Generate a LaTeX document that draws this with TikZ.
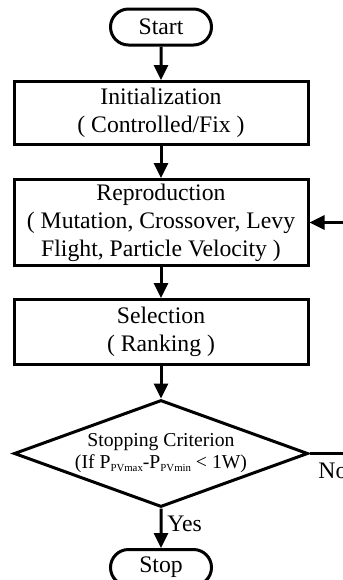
\documentclass[tikz,border=0pt]{standalone}
\usepackage{fontspec}
\setmainfont{Liberation Serif}
\usetikzlibrary{arrows.meta,shapes.geometric,shapes.misc}
\newcommand{\mainsize}{\fontsize{11.85pt}{14pt}\selectfont}
\newcommand{\critsize}{\fontsize{9.85pt}{11pt}\selectfont}
\newcommand{\subpv}[1]{\raisebox{-1.3pt}{\fontsize{5.4pt}{6pt}\selectfont #1}}
\tikzset{
  procbox/.style={draw, line width=1.5pt, minimum width=147pt, inner sep=0pt, align=center, font=\mainsize},
  termbox/.style={draw, line width=1.5pt, rounded rectangle, minimum width=50.5pt, minimum height=18pt, inner sep=0pt, font=\mainsize},
  decision/.style={draw, line width=1.5pt, diamond, aspect=2.75, minimum width=147pt, minimum height=53.5pt, inner sep=0pt},
  flow/.style={line width=1.5pt, -{Triangle[length=7.5pt,width=7pt]}},
  lbl/.style={font=\mainsize, inner sep=0pt},
}
\begin{document}
\begin{tikzpicture}[x=0.5pt, y=-0.5pt]
      \useasboundingbox (0,0) rectangle (343,580);
      \clip (0,0) rectangle (343,580);
      % blocks
      \node[termbox] (start) at (161,27) {Start};
      \node[procbox, minimum height=31.5pt] (init) at (161,113) {Initialization\\( Controlled/Fix )};
      \node[procbox, minimum height=43pt] (repro) at (161,222.5) {Reproduction\\( Mutation, Crossover, Levy\\Flight, Particle Velocity )};
      \node[procbox, minimum height=32.5pt] (sel) at (161,332) {Selection\\( Ranking )};
      \node[decision] (crit) at (161,453.5) {};
      \node[font=\critsize, align=center, inner sep=0pt] (crittext) at (crit.center) {Stopping Criterion\\(If P\subpv{PVmax}-P\subpv{PVmin} < 1W)};
      \node[termbox] (stop) at (161,567.5) {Stop};
      % connectors
      \draw[flow] (start) -- (init);
      \draw[flow] (init) -- (repro);
      \draw[flow] (repro) -- (sel);
      \draw[flow] (sel) -- (crit);
      \draw[flow] (crit) -- (stop);
      \draw[flow] (crit.east) -- ++(60,0) |- (repro.east);
      % labels
      \node[lbl, anchor=west] (yes) at (167,524) {Yes};
      \node[lbl, anchor=north west] (no) at (318,463) {No};
\end{tikzpicture}
\end{document}
